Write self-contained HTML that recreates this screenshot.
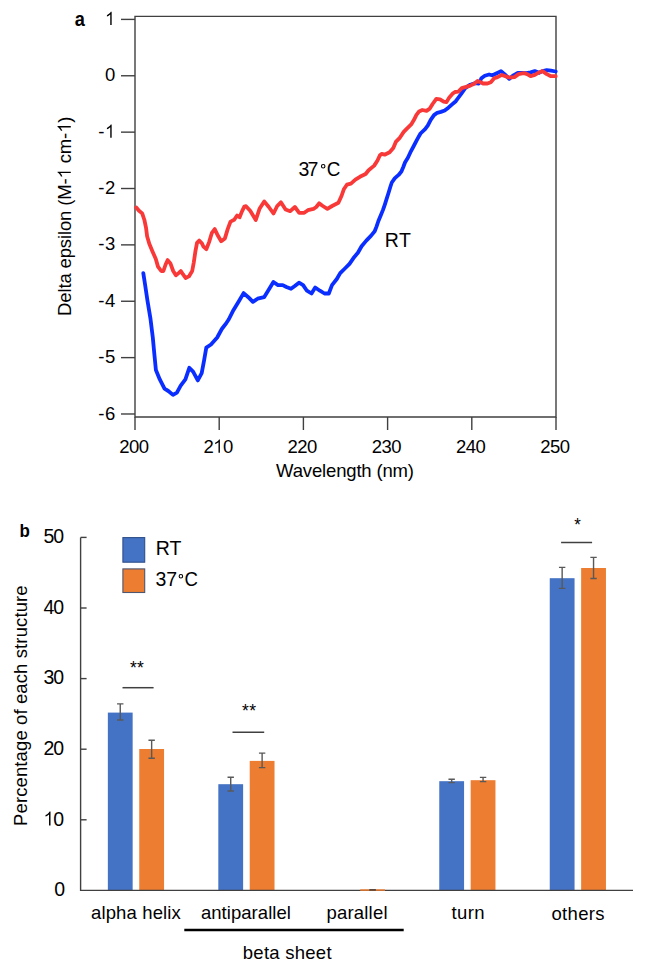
<!DOCTYPE html>
<html><head><meta charset="utf-8"><style>
html,body{margin:0;padding:0;background:#fff;}
svg{display:block;}
text{font-family:"Liberation Sans", sans-serif;fill:#000;}
</style></head><body>
<svg width="645" height="971" viewBox="0 0 645 971">
<text x="74.73" y="25.65" font-size="19.50" font-weight="bold" textLength="10.14" lengthAdjust="spacingAndGlyphs">a</text>
<path d="M135 16.4H556V417H135Z" fill="none" stroke="#404040" stroke-width="1.4"/>
<line x1="121" y1="19.40" x2="135" y2="19.40" stroke="#404040" stroke-width="1.4"/>
<text x="115.2" y="25.00" font-size="18.5" text-anchor="end" textLength="10.44" lengthAdjust="spacing"> </text><path transform=" translate(104.90 25.00) scale(0.00903 -0.00903)" d="M748 0H593V1160Q528 1095 420 1032Q312 969 223 936V1090Q375 1160 488 1264Q602 1367 652 1466H748Z"/>
<line x1="121" y1="75.77" x2="135" y2="75.77" stroke="#404040" stroke-width="1.4"/>
<text x="115.2" y="81.37" font-size="18.5" text-anchor="end" textLength="10.44" lengthAdjust="spacing">0</text>
<line x1="121" y1="132.14" x2="135" y2="132.14" stroke="#404040" stroke-width="1.4"/>
<text x="115.2" y="137.74" font-size="18.5" text-anchor="end" textLength="16.94" lengthAdjust="spacing">- </text><path transform=" translate(104.90 137.74) scale(0.00903 -0.00903)" d="M748 0H593V1160Q528 1095 420 1032Q312 969 223 936V1090Q375 1160 488 1264Q602 1367 652 1466H748Z"/>
<line x1="121" y1="188.51" x2="135" y2="188.51" stroke="#404040" stroke-width="1.4"/>
<text x="115.2" y="194.11" font-size="18.5" text-anchor="end" textLength="16.94" lengthAdjust="spacing">-2</text>
<line x1="121" y1="244.88" x2="135" y2="244.88" stroke="#404040" stroke-width="1.4"/>
<text x="115.2" y="250.48" font-size="18.5" text-anchor="end" textLength="16.94" lengthAdjust="spacing">-3</text>
<line x1="121" y1="301.25" x2="135" y2="301.25" stroke="#404040" stroke-width="1.4"/>
<text x="115.2" y="306.85" font-size="18.5" text-anchor="end" textLength="16.94" lengthAdjust="spacing">-4</text>
<line x1="121" y1="357.62" x2="135" y2="357.62" stroke="#404040" stroke-width="1.4"/>
<text x="115.2" y="363.22" font-size="18.5" text-anchor="end" textLength="16.94" lengthAdjust="spacing">-5</text>
<line x1="121" y1="413.99" x2="135" y2="413.99" stroke="#404040" stroke-width="1.4"/>
<text x="115.2" y="419.59" font-size="18.5" text-anchor="end" textLength="16.94" lengthAdjust="spacing">-6</text>
<line x1="135.00" y1="417" x2="135.00" y2="430" stroke="#404040" stroke-width="1.4"/>
<text x="134.10" y="452.65" font-size="18.5" text-anchor="middle" textLength="29.78" lengthAdjust="spacing">200</text>
<line x1="219.20" y1="417" x2="219.20" y2="430" stroke="#404040" stroke-width="1.4"/>
<text x="218.30" y="452.65" font-size="18.5" text-anchor="middle" textLength="29.78" lengthAdjust="spacing">2 0</text><path transform=" translate(213.15 452.65) scale(0.00903 -0.00903)" d="M748 0H593V1160Q528 1095 420 1032Q312 969 223 936V1090Q375 1160 488 1264Q602 1367 652 1466H748Z"/>
<line x1="303.40" y1="417" x2="303.40" y2="430" stroke="#404040" stroke-width="1.4"/>
<text x="302.50" y="452.65" font-size="18.5" text-anchor="middle" textLength="29.78" lengthAdjust="spacing">220</text>
<line x1="387.60" y1="417" x2="387.60" y2="430" stroke="#404040" stroke-width="1.4"/>
<text x="386.70" y="452.65" font-size="18.5" text-anchor="middle" textLength="29.78" lengthAdjust="spacing">230</text>
<line x1="471.80" y1="417" x2="471.80" y2="430" stroke="#404040" stroke-width="1.4"/>
<text x="470.90" y="452.65" font-size="18.5" text-anchor="middle" textLength="29.78" lengthAdjust="spacing">240</text>
<line x1="556.00" y1="417" x2="556.00" y2="430" stroke="#404040" stroke-width="1.4"/>
<text x="555.10" y="452.65" font-size="18.5" text-anchor="middle" textLength="29.78" lengthAdjust="spacing">250</text>
<text x="276.12" y="477.25" font-size="18.50" textLength="137.88" lengthAdjust="spacing">Wavelength (nm)</text>
<text transform="translate(70.79 315.94) rotate(-90)" font-size="18.50" textLength="199.42" lengthAdjust="spacing">Delta epsilon (M-  cm- )</text><path transform="translate(70.79 315.94) rotate(-90) translate(137.53 0.00) scale(0.00903 -0.00903)" d="M748 0H593V1160Q528 1095 420 1032Q312 969 223 936V1090Q375 1160 488 1264Q602 1367 652 1466H748Z"/><path transform="translate(70.79 315.94) rotate(-90) translate(183.09 0.00) scale(0.00903 -0.00903)" d="M748 0H593V1160Q528 1095 420 1032Q312 969 223 936V1090Q375 1160 488 1264Q602 1367 652 1466H748Z"/>
<polyline points="143.3,273.1 145.1,284.8 147.4,300.3 150.5,318.9 152.8,337.5 154.4,354.6 155.9,370.1 159.8,379.4 164.5,388.7 168.3,391.0 173.0,394.9 176.9,392.6 180.7,385.6 185.4,379.4 189.3,367.8 193.1,371.6 197.8,380.4 201.7,373.2 204.0,360.8 206.3,347.6 211.0,344.5 217.2,337.5 221.8,329.0 226.5,322.8 228.7,319.5 233.4,310.2 239.0,300.9 243.6,293.1 248.3,297.2 252.9,301.9 257.6,298.7 264.1,297.2 268.7,289.8 273.4,282.0 278.0,285.1 282.7,285.1 286.4,287.0 291.0,288.8 294.8,286.0 299.0,282.7 303.1,285.1 306.9,290.7 311.5,293.5 315.2,287.5 319.9,290.7 324.5,293.5 328.8,293.5 332.0,285.1 336.8,279.0 340.2,273.1 344.9,268.5 349.5,263.8 353.3,258.3 357.9,252.7 361.6,246.2 366.3,240.6 370.9,235.9 374.7,231.3 376.5,226.6 378.4,221.0 380.7,215.5 383.0,209.9 384.9,204.3 386.7,198.7 388.5,193.0 390.3,187.0 391.8,182.5 394.9,178.1 398.6,174.9 401.4,171.6 403.3,167.0 405.1,162.3 407.9,157.7 410.9,151.3 414.0,145.5 417.2,139.4 420.5,133.5 425.1,129.1 427.9,125.3 430.7,119.8 434.0,115.1 437.2,112.8 440.9,111.9 444.7,110.5 448.4,107.7 452.1,104.4 455.8,101.2 458.5,97.5 461.0,94.1 465.2,88.1 470.3,84.7 475.5,83.0 478.9,83.5 481.4,78.3 484.8,75.8 489.1,74.5 492.5,75.3 496.8,73.2 501.0,71.1 504.5,74.1 509.3,78.8 513.5,75.3 517.8,72.8 522.1,72.8 526.3,73.2 530.6,72.4 534.8,71.1 539.1,72.8 542.5,71.1 546.8,70.2 551.0,70.7 555.7,71.5" fill="none" stroke="#0A2EFF" stroke-width="3.8" stroke-linejoin="round" stroke-linecap="round"/>
<polyline points="136.3,207.5 139.0,210.7 142.2,213.4 144.4,220.0 146.0,227.6 147.1,236.2 149.3,243.8 152.5,251.4 155.8,259.0 158.0,266.6 161.2,271.0 163.4,271.0 165.6,264.5 167.7,260.1 170.4,263.4 173.2,271.0 175.9,275.3 178.6,273.1 180.8,271.0 182.9,274.2 185.6,278.0 188.9,276.4 192.2,271.0 193.8,262.3 195.4,251.4 197.0,242.8 199.2,240.6 201.9,243.3 203.5,246.7 206.3,249.2 209.1,242.1 211.9,232.8 214.7,229.1 217.4,234.7 221.2,241.2 224.9,238.4 227.7,229.1 230.5,221.6 234.2,219.8 237.1,215.5 239.6,217.3 242.1,211.1 244.3,206.6 246.0,206.2 250.2,210.7 255.8,220.0 259.5,208.8 264.2,201.4 268.8,207.0 273.5,213.5 277.2,206.0 280.9,202.3 285.6,209.5 290.2,211.2 294.9,207.0 299.2,212.8 304.2,212.8 307.9,210.2 313.5,208.8 316.3,207.0 319.1,203.3 322.8,206.0 327.4,208.8 332.1,206.0 335.5,204.3 338.4,202.8 341.5,196.0 343.8,189.3 346.9,184.7 350.9,183.6 355.4,179.6 359.9,176.8 365.6,174.0 368.6,170.2 374.2,165.6 377.5,160.5 379.8,155.5 381.6,153.9 384.6,154.7 389.6,152.2 393.3,147.9 395.8,141.9 399.5,138.2 403.7,131.9 407.4,128.1 411.2,124.4 414.0,119.8 416.3,115.1 419.1,111.4 422.3,110.0 426.5,110.9 429.8,108.6 432.6,104.0 436.3,98.8 440.0,99.3 443.7,101.6 446.5,102.1 449.3,97.4 453.0,93.3 455.0,92.0 458.4,91.6 461.8,88.1 466.1,86.9 470.3,85.6 474.6,83.5 477.6,80.9 480.6,82.2 483.1,83.5 487.4,83.5 490.8,82.2 494.2,78.3 497.6,77.1 501.9,74.9 506.2,76.6 509.3,77.5 514.4,77.1 518.6,74.1 523.8,73.2 527.2,74.1 530.6,76.2 534.8,74.9 539.1,72.4 542.5,71.1 546.8,74.1 551.0,76.2 555.7,76.2" fill="none" stroke="#F93838" stroke-width="3.8" stroke-linejoin="round" stroke-linecap="round"/>
<text x="298.61" y="175.85" font-size="19.50" textLength="19.71" lengthAdjust="spacing">37</text>
<text x="326.84" y="175.85" font-size="19.50" textLength="13.61" lengthAdjust="spacingAndGlyphs">C</text>
<circle cx="323.2" cy="166.2" r="1.75" fill="none" stroke="#000" stroke-width="1.1"/>
<text x="384.81" y="247.25" font-size="19.50" textLength="26.06" lengthAdjust="spacing">RT</text>
<text x="19.62" y="536.65" font-size="18.50" font-weight="bold" textLength="10.34" lengthAdjust="spacingAndGlyphs">b</text>
<text x="65.1" y="896.10" font-size="19.5" text-anchor="end" textLength="10.35" lengthAdjust="spacing">0</text>
<line x1="80.6" y1="819.80" x2="86.6" y2="819.80" stroke="#404040" stroke-width="1.4"/>
<text x="64.1" y="825.50" font-size="19.5" text-anchor="end" textLength="20.71" lengthAdjust="spacing"> 0</text><path transform=" translate(43.39 825.50) scale(0.00952 -0.00952)" d="M748 0H593V1160Q528 1095 420 1032Q312 969 223 936V1090Q375 1160 488 1264Q602 1367 652 1466H748Z"/>
<line x1="80.6" y1="749.20" x2="86.6" y2="749.20" stroke="#404040" stroke-width="1.4"/>
<text x="64.1" y="754.90" font-size="19.5" text-anchor="end" textLength="20.71" lengthAdjust="spacing">20</text>
<line x1="80.6" y1="678.60" x2="86.6" y2="678.60" stroke="#404040" stroke-width="1.4"/>
<text x="64.1" y="684.30" font-size="19.5" text-anchor="end" textLength="20.71" lengthAdjust="spacing">30</text>
<line x1="80.6" y1="608.00" x2="86.6" y2="608.00" stroke="#404040" stroke-width="1.4"/>
<text x="64.1" y="613.70" font-size="19.5" text-anchor="end" textLength="20.71" lengthAdjust="spacing">40</text>
<line x1="80.6" y1="537.40" x2="86.6" y2="537.40" stroke="#404040" stroke-width="1.4"/>
<text x="64.1" y="543.10" font-size="19.5" text-anchor="end" textLength="20.71" lengthAdjust="spacing">50</text>
<text transform="translate(26.85 825.94) rotate(-90)" font-size="18.50" textLength="240.59" lengthAdjust="spacing">Percentage of each structure</text>
<rect x="107.85" y="712.60" width="24.80" height="177.80" fill="#4472C4"/>
<rect x="139.25" y="749.00" width="24.80" height="141.40" fill="#ED7D31"/>
<path d="M117.05 703.90H123.45M120.25 703.90V720.00M117.05 720.00H123.45" stroke="#595959" stroke-width="1.4" fill="none"/>
<path d="M148.45 740.20H154.85M151.65 740.20V758.30M148.45 758.30H154.85" stroke="#595959" stroke-width="1.4" fill="none"/>
<rect x="218.32" y="784.20" width="24.80" height="106.20" fill="#4472C4"/>
<rect x="249.72" y="760.90" width="24.80" height="129.50" fill="#ED7D31"/>
<path d="M227.52 777.30H233.92M230.72 777.30V791.00M227.52 791.00H233.92" stroke="#595959" stroke-width="1.4" fill="none"/>
<path d="M258.93 753.10H265.32M262.12 753.10V767.60M258.93 767.60H265.32" stroke="#595959" stroke-width="1.4" fill="none"/>
<rect x="439.27" y="781.20" width="24.80" height="109.20" fill="#4472C4"/>
<rect x="470.67" y="780.20" width="24.80" height="110.20" fill="#ED7D31"/>
<path d="M448.47 779.30H454.87M451.67 779.30V782.60M448.47 782.60H454.87" stroke="#595959" stroke-width="1.4" fill="none"/>
<path d="M479.87 777.40H486.27M483.07 777.40V781.60M479.87 781.60H486.27" stroke="#595959" stroke-width="1.4" fill="none"/>
<rect x="549.75" y="578.20" width="24.80" height="312.20" fill="#4472C4"/>
<rect x="581.15" y="568.00" width="24.80" height="322.40" fill="#ED7D31"/>
<path d="M558.95 567.40H565.35M562.15 567.40V588.40M558.95 588.40H565.35" stroke="#595959" stroke-width="1.4" fill="none"/>
<path d="M590.35 557.40H596.75M593.55 557.40V578.50M590.35 578.50H596.75" stroke="#595959" stroke-width="1.4" fill="none"/>
<text x="90.95" y="919.05" font-size="18.50" textLength="89.87" lengthAdjust="spacing">alpha helix</text>
<text x="200.95" y="918.85" font-size="18.50" textLength="90.00" lengthAdjust="spacing">antiparallel</text>
<text x="326.47" y="918.65" font-size="18.50" textLength="61.03" lengthAdjust="spacing">parallel</text>
<text x="451.53" y="919.25" font-size="18.50" textLength="33.03" lengthAdjust="spacing">turn</text>
<text x="551.44" y="919.65" font-size="18.50" textLength="53.06" lengthAdjust="spacing">others</text>
<path d="M80.6 537.5V890.4H633" fill="none" stroke="#404040" stroke-width="1.4"/>
<rect x="360.20" y="889.3" width="24.8" height="1.5" fill="#ED7D31"/>
<line x1="369.30" y1="889.9" x2="375.90" y2="889.9" stroke="#383838" stroke-width="1.4"/>
<line x1="122.5" y1="687.7" x2="153.6" y2="687.7" stroke="#404040" stroke-width="1.5"/>
<line x1="232.5" y1="732.3" x2="264.2" y2="732.3" stroke="#404040" stroke-width="1.5"/>
<line x1="561.1" y1="542.5" x2="592.1" y2="542.5" stroke="#404040" stroke-width="1.5"/>
<text x="129.88" y="674.19" font-size="17.50" textLength="13.92" lengthAdjust="spacing">**</text>
<text x="241.88" y="717.38" font-size="17.50" textLength="14.12" lengthAdjust="spacing">**</text>
<text x="574.30" y="531.07" font-size="17.50" textLength="6.55" lengthAdjust="spacingAndGlyphs">*</text>
<rect x="122.9" y="537.6" width="21.8" height="24.6" fill="#4472C4" stroke="#2F4F8A" stroke-width="1.1"/>
<rect x="122.9" y="568.9" width="21.8" height="23.6" fill="#ED7D31" stroke="#4E5670" stroke-width="1.1"/>
<text x="155.67" y="555.05" font-size="19.50" textLength="25.80" lengthAdjust="spacing">RT</text>
<text x="155.49" y="586.05" font-size="19.50" textLength="21.60" lengthAdjust="spacing">37</text>
<text x="184.53" y="586.05" font-size="19.50" textLength="13.41" lengthAdjust="spacingAndGlyphs">C</text>
<circle cx="180.9" cy="576.2" r="1.75" fill="none" stroke="#000" stroke-width="1.1"/>
<line x1="184.3" y1="930" x2="403.7" y2="930" stroke="#000" stroke-width="2.6"/>
<text x="242.78" y="958.65" font-size="18.50" textLength="88.78" lengthAdjust="spacing">beta sheet</text>
</svg></body></html>
